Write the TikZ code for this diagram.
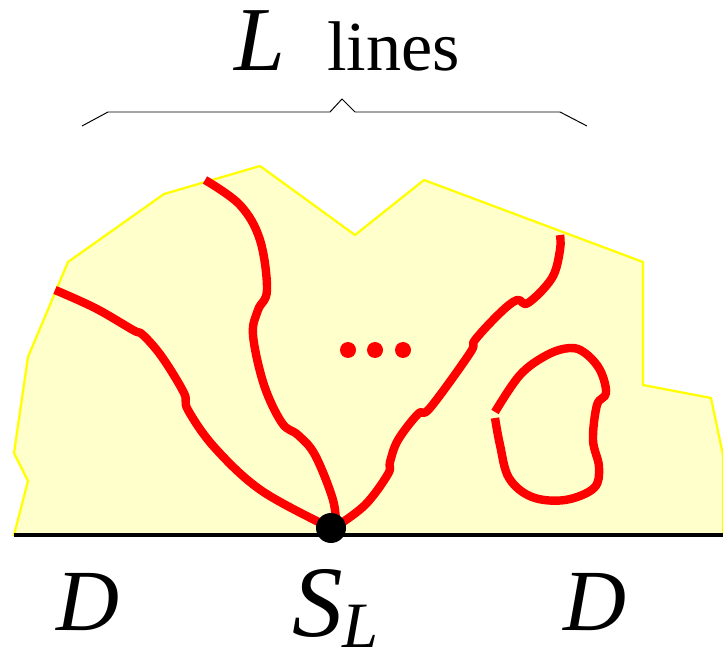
\documentclass[tikz,border=0pt]{standalone}
\usepackage{fontspec}
\setmainfont{Liberation Serif}
\definecolor{regfill}{HTML}{FFFFCC}
\definecolor{regedge}{HTML}{FFFF00}
\definecolor{lnred}{HTML}{FF0000}
\begin{document}
\begin{tikzpicture}[
  x=0.025cm, y=-0.025cm,
  region/.style={fill=regfill, draw=regedge, line width=1.6pt, line join=miter},
  redline/.style={draw=lnred, line width=6pt, line join=round},
  dotmark/.style={circle, fill=lnred, inner sep=0pt, minimum size=16*0.025cm},
  bigtxt/.style={font=\fontsize{62}{62}\selectfont\itshape, inner sep=0pt},
]
\useasboundingbox (0,0) rectangle (723,661);

% Domain
\draw[region] (14,535) -- (28,481) -- (14,453) -- (28,357) -- (68,262)
  -- (164,194) -- (260,166) -- (355,235) -- (424,180) -- (643,262)
  -- (643,385) -- (711,398) -- (723,455) -- (723,535) -- cycle;
\draw[black, line width=2.2pt] (14,535) -- (723,535);

% Lines from S_L
\draw[redline] plot[smooth, tension=0.6] coordinates {(55,290) (95,308) (133,330)
  (143,335) (162,357) (184,393) (188,410) (215,448) (262,491) (331,528)};
\draw[redline] plot[smooth, tension=0.6] coordinates {(205,180) (240,205) (260,240)
  (267,290) (258,310) (253,335) (264,385) (282,423) (298,435) (315,455)
  (333,500) (336,528)};
\draw[redline] plot[smooth, tension=0.6] coordinates {(334,528) (365,505) (388,474)
  (390,462) (398,440) (418,414) (430,408) (470,353) (475,340) (500,313)
  (517,300) (528,303) (552,278) (560,250) (560,235)};

% Closed loop with a gap
\draw[redline] plot[smooth, tension=0.6] coordinates {(495,412) (520,375) (547,355)
  (570,348) (585,353) (600,370) (606,393) (597,405) (593,440) (599,467)
  (594,488) (565,500) (532,497) (509,478) (500,445) (495,418)};

% Dots
\node[dotmark] (d1) at (348,350) {};
\node[dotmark] (d2) at (375,350) {};
\node[dotmark] (d3) at (403,350) {};

% Source point
\node[circle, fill=black, inner sep=0pt, minimum size=30*0.025cm] (sl) at (331,528) {};

% Brace
\draw[black, line width=0.7pt] (82,126) -- (108,112) -- (330,112) -- (342,99)
  -- (355,112) -- (560,112) -- (587,126);

% Labels
\node[font=\fontsize{65}{65}\selectfont\itshape, inner sep=0pt, anchor=base] (lab) at (260,71) {L};
\node[font=\fontsize{50}{50}\selectfont, inner sep=0pt, anchor=base west] (lines) at (327,71) {lines};
\node[bigtxt, anchor=base] (dl) at (88,630) {D};
\node[bigtxt, anchor=base] (dr) at (595,630) {D};
\node[font=\fontsize{72}{72}\selectfont\itshape, inner sep=0pt, anchor=base west] (slab) at (292,636)
  {S\raisebox{-8.5pt}{\fontsize{46}{46}\selectfont L}};
\end{tikzpicture}
\end{document}
